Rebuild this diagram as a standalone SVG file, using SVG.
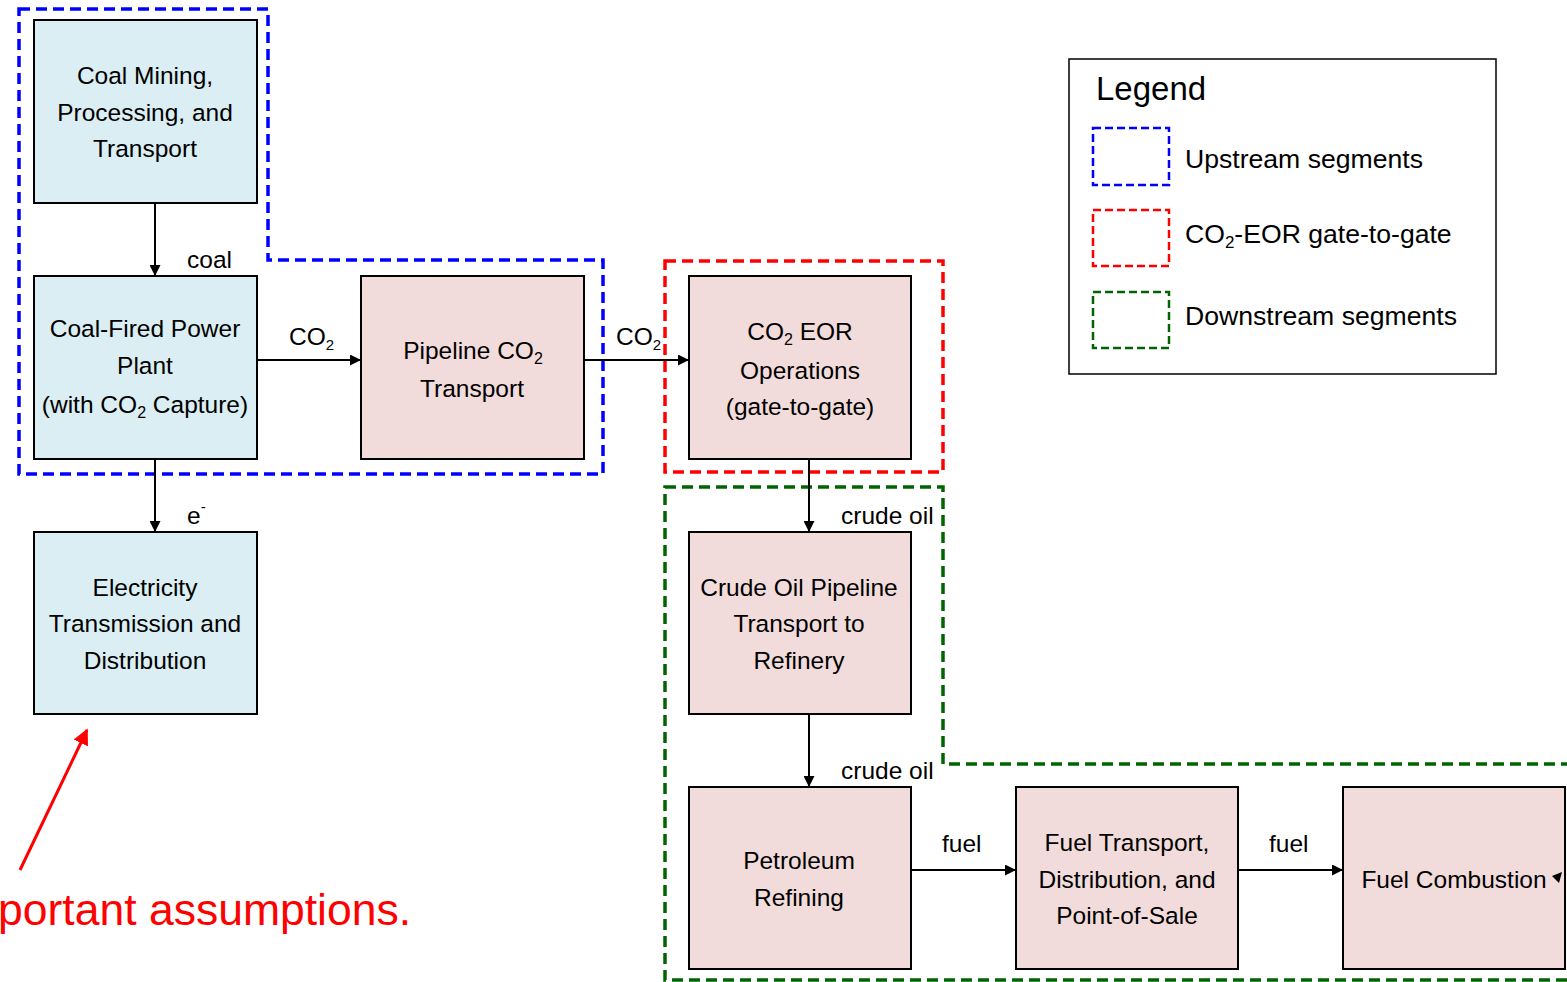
<svg xmlns="http://www.w3.org/2000/svg" width="1567" height="982" viewBox="0 0 1567 982">
<defs>
<style>
.t{font-family:"Liberation Sans",Arial,sans-serif;font-size:24.5px;fill:#000}
.c{text-anchor:middle}
.blue{fill:#DAEEF3;stroke:#000;stroke-width:2}
.pink{fill:#F2DCDB;stroke:#000;stroke-width:2}
.conn{stroke:#000;stroke-width:2;fill:none;marker-end:url(#ah)}
.lg{font-family:"Liberation Sans",Arial,sans-serif;font-size:26.6px;fill:#000}
</style>
<marker id="ah" viewBox="0 0 10 10" refX="10" refY="5" markerWidth="11" markerHeight="11" orient="auto" markerUnits="userSpaceOnUse">
<path d="M0,0 L10,5 L0,10 z" fill="#000"/>
</marker>
<marker id="ahr" viewBox="0 0 10 10" refX="9" refY="5" markerWidth="16" markerHeight="16" orient="auto" markerUnits="userSpaceOnUse">
<path d="M0,0 L10,5 L0,10 z" fill="#FF0000"/>
</marker>
</defs>
<rect width="1567" height="982" fill="#fff"/>

<g id="segments" fill="none" stroke-width="3.5" stroke-dasharray="11,6">
<path id="upstream-boundary" d="M19,9 H268 V260 H603 V474 H19 Z" stroke="#0000FF"/>
<path id="eor-boundary" d="M665,261 H943 V472 H665 Z" stroke="#FF0000"/>
<path id="downstream-boundary" d="M665,487 H943 V764 H1575 V980 H665 Z" stroke="#006400"/>
</g>

<g id="connectors">
<line class="conn" x1="155" y1="204" x2="155" y2="276"/>
<line class="conn" x1="257" y1="360" x2="361" y2="360"/>
<line class="conn" x1="584" y1="360" x2="689" y2="360"/>
<line class="conn" x1="155" y1="459" x2="155" y2="532"/>
<line class="conn" x1="809" y1="459" x2="809" y2="532"/>
<line class="conn" x1="809" y1="714" x2="809" y2="787"/>
<line class="conn" x1="911" y1="870" x2="1016" y2="870"/>
<line class="conn" x1="1238" y1="870" x2="1343" y2="870"/>
<text class="t" x="187" y="268">coal</text>
<text class="t" x="289" y="345">CO<tspan font-size="15" dy="5">2</tspan></text>
<text class="t" x="616" y="345">CO<tspan font-size="15" dy="5">2</tspan></text>
<text class="t" x="187" y="524">e<tspan font-size="15" dy="-12">-</tspan></text>
<text class="t" x="841" y="524">crude oil</text>
<text class="t" x="841" y="779">crude oil</text>
<text class="t" x="942" y="852">fuel</text>
<text class="t" x="1269" y="852">fuel</text>
</g>

<g id="coal-mining">
<rect class="blue" x="34" y="20" width="223" height="183"/>
<text class="t c" x="145" y="84">Coal Mining,</text>
<text class="t c" x="145" y="121">Processing, and</text>
<text class="t c" x="145" y="157">Transport</text>
</g>

<g id="power-plant">
<rect class="blue" x="34" y="276" width="223" height="183"/>
<text class="t c" x="145" y="337">Coal-Fired Power</text>
<text class="t c" x="145" y="374">Plant</text>
<text class="t c" x="145" y="413">(with CO<tspan font-size="16" dy="5">2</tspan><tspan dy="-5"> Capture)</tspan></text>
</g>

<g id="electricity">
<rect class="blue" x="34" y="532" width="223" height="182"/>
<text class="t c" x="145" y="596">Electricity</text>
<text class="t c" x="145" y="632">Transmission and</text>
<text class="t c" x="145" y="669">Distribution</text>
</g>

<g id="pipeline-co2">
<rect class="pink" x="361" y="276" width="223" height="183"/>
<text class="t c" x="473" y="359">Pipeline CO<tspan font-size="16" dy="5">2</tspan></text>
<text class="t c" x="472" y="397">Transport</text>
</g>

<g id="co2-eor">
<rect class="pink" x="689" y="276" width="222" height="183"/>
<text class="t c" x="800" y="340">CO<tspan font-size="16" dy="5">2</tspan><tspan dy="-5"> EOR</tspan></text>
<text class="t c" x="800" y="379">Operations</text>
<text class="t c" x="800" y="415">(gate-to-gate)</text>
</g>

<g id="crude-pipeline">
<rect class="pink" x="689" y="532" width="222" height="182"/>
<text class="t c" x="799" y="596">Crude Oil Pipeline</text>
<text class="t c" x="799" y="632">Transport to</text>
<text class="t c" x="799" y="669">Refinery</text>
</g>

<g id="refining">
<rect class="pink" x="689" y="787" width="222" height="182"/>
<text class="t c" x="799" y="869">Petroleum</text>
<text class="t c" x="799" y="906">Refining</text>
</g>

<g id="fuel-transport">
<rect class="pink" x="1016" y="787" width="222" height="182"/>
<text class="t c" x="1127" y="851">Fuel Transport,</text>
<text class="t c" x="1127" y="888">Distribution, and</text>
<text class="t c" x="1127" y="924">Point-of-Sale</text>
</g>

<g id="fuel-combustion">
<rect class="pink" x="1343" y="787" width="222" height="182"/>
<text class="t c" x="1454" y="888">Fuel Combustion</text>
<path d="M1552,876 L1562,872 L1559,883 Z" fill="#000"/>
</g>

<g id="legend">
<rect x="1069" y="59" width="427" height="315" fill="#fff" stroke="#000" stroke-width="1.5"/>
<text x="1096" y="100" font-family="Liberation Sans, Arial, sans-serif" font-size="33">Legend</text>
<g fill="none" stroke-width="2.5" stroke-dasharray="8,4">
<rect x="1093" y="128" width="76" height="57" stroke="#0000FF"/>
<rect x="1093" y="210" width="76" height="56" stroke="#FF0000"/>
<rect x="1093" y="292" width="76" height="56" stroke="#006400"/>
</g>
<text class="lg" x="1185" y="168">Upstream segments</text>
<text class="lg" x="1185" y="243">CO<tspan font-size="17" dy="5">2</tspan><tspan dy="-5">-EOR gate-to-gate</tspan></text>
<text class="lg" x="1185" y="325">Downstream segments</text>
</g>

<g id="annotation">
<line x1="20" y1="870" x2="87" y2="730" stroke="#FF0000" stroke-width="3" marker-end="url(#ahr)"/>
<text x="-2" y="925" font-family="Liberation Sans, Arial, sans-serif" font-size="44.5" fill="#FF0000">portant assumptions.</text>
</g>
</svg>
